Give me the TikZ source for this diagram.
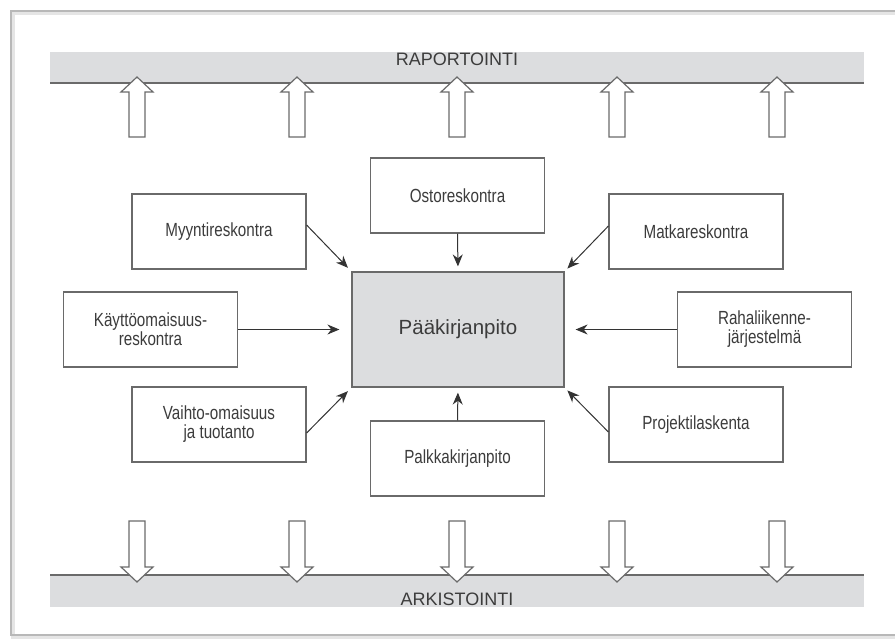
\documentclass[tikz,border=0pt]{standalone}
\usepackage{fontspec}
\setmainfont{Liberation Sans}
\newfontfamily\narrowfont{Liberation Sans}[FakeStretch=0.8]
\usepackage{tikz}
\usetikzlibrary{shapes,arrows.meta,positioning}

\definecolor{bandgray}{HTML}{DCDDDF}
\definecolor{linegray}{HTML}{6A6A6A}
\definecolor{textgray}{HTML}{3C3C3C}

\begin{document}
\begin{tikzpicture}[x=1pt,y=-1pt]

% Define box, centre box and connector style
\tikzstyle{subbox} = [draw=linegray, fill=white, line width=1.2pt,
    rectangle, minimum width=174pt, minimum height=75pt, inner sep=0pt,
    align=center, text=textgray, font=\narrowfont\fontsize{19}{19}\selectfont]
\tikzstyle{mainbox} = [draw=linegray, fill=bandgray, line width=1.2pt,
    rectangle, minimum width=212pt, minimum height=115pt, inner sep=0pt,
    text=textgray, font=\fontsize{20.5}{20.5}\selectfont]
\tikzstyle{feed} = [draw=black!80, line width=1pt,
    -{Stealth[length=12pt,width=10pt]}]
\tikzstyle{fatarrow} = [draw=linegray, fill=white, line width=1.2pt, line join=miter]
\tikzstyle{bandtext} = [text=textgray, font=\fontsize{18}{18}\selectfont, inner sep=0pt]

\useasboundingbox (0,0) rectangle (895,643);

% frame
\draw[black!10, line width=4pt] (13,13) rectangle (910,637);
\draw[black!28, line width=1.5pt] (11,11) rectangle (908,635);

% bands
\fill[bandgray] (50,52) rectangle (864,83);
\draw[linegray, line width=1.2pt] (50,83) -- (864,83);
\node[bandtext] (rap) at (457,59) {RAPORTOINTI};

\fill[bandgray] (50,575) rectangle (864,607);
\draw[linegray, line width=1.2pt] (50,575) -- (864,575);
\node[bandtext] (ark) at (457,599) {ARKISTOINTI};

% block arrows
\foreach \x in {137,297,457,617,777} {
    \draw[fatarrow] (\x-8,137) -- (\x-8,92) -- (\x-16,92) -- (\x,77)
        -- (\x+16,92) -- (\x+8,92) -- (\x+8,137) -- cycle;
    \draw[fatarrow] (\x-8,521) -- (\x-8,567) -- (\x-16,567) -- (\x,582)
        -- (\x+16,567) -- (\x+8,567) -- (\x+8,521) -- cycle;
}

% boxes
\node [mainbox] (paa) at (458,329.5) {Pääkirjanpito};

\node [subbox] (myynti) at (219,231.5) {Myyntireskontra};
\node [subbox] (kaytto) at (150.5,329.5) {Käyttöomaisuus-\\reskontra};
\node [subbox] (vaihto) at (219,424.5) {Vaihto-omaisuus\\ja tuotanto};
\node [subbox] (osto) at (457.5,195.5) {Ostoreskontra};
\node [subbox] (palkka) at (457.5,458.5) {Palkkakirjanpito};
\node [subbox] (matka) at (696,231.5) {Matkareskontra};
\node [subbox] (raha) at (764.5,329.5) {Rahaliikenne-\\järjestelmä};
\node [subbox] (projekti) at (696,424.5) {Projektilaskenta};

% connectors
\draw[feed, shorten >=5pt] ([yshift=6.5pt]myynti.east) -- (paa.north west);
\draw[feed, shorten >=12pt] (kaytto.east) -- (paa.west);
\draw[feed, shorten >=5pt] ([yshift=-8.5pt]vaihto.east) -- (paa.south west);
\draw[feed, shorten >=5pt] (osto.south) -- (paa.north);
\draw[feed, shorten >=5pt] (palkka.north) -- (paa.south);
\draw[feed, shorten >=4pt] ([yshift=5.5pt]matka.west) -- (paa.north east);
\draw[feed, shorten >=11pt] (raha.west) -- (paa.east);
\draw[feed, shorten >=4pt] ([yshift=-7.5pt]projekti.west) -- (paa.south east);

\end{tikzpicture}
\end{document}
